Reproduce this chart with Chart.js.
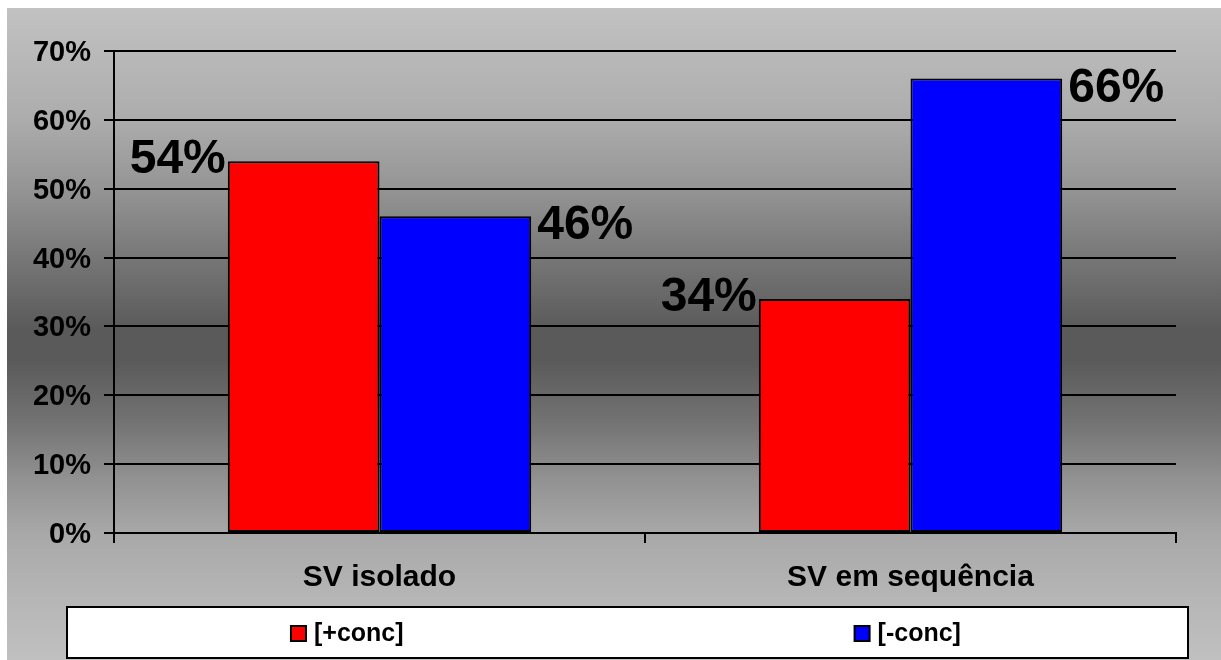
<!DOCTYPE html>
<html>
<head>
<meta charset="utf-8">
<script src="https://cdn.jsdelivr.net/npm/chart.js@4.4.1/dist/chart.umd.min.js"></script>
<style>
  html, body { margin: 0; padding: 0; background: #ffffff; }
  #wrap { width: 1221px; height: 660px; position: relative; }
</style>
</head>
<body>
<div id="wrap"><canvas id="chart" width="1221" height="660"></canvas></div>
<script>
// Categories, series and axis settings
const categories = ['SV isolado', 'SV em sequência'];
const seriesNames = ['[+conc]', '[-conc]'];
const plusConc = [54, 34];
const minusConc = [46, 66];
const seriesColors = ['#ff0000', '#0000ff'];
const yMin = 0;
const yMax = 70;
const yStep = 10;

const FONT = '"Liberation Sans", Arial, Helvetica, sans-serif';

// Vertical grey shading behind the whole chart
const backgroundPlugin = {
  id: 'backgroundShade',
  beforeDraw(chart) {
    const ctx = chart.ctx;
    const w = chart.width, h = chart.height;
    ctx.save();
    ctx.fillStyle = '#ffffff';
    ctx.fillRect(0, 0, w, h);
    const top = 8, left = 7;
    const g = ctx.createLinearGradient(0, top, 0, h);
    const stops = [
      [8, '#c2c2c2'], [120, '#acacac'], [190, '#949494'], [260, '#767676'],
      [330, '#5a5a5a'], [360, '#5a5a5a'], [420, '#727272'], [480, '#929292'],
      [533, '#a8a8a8'], [600, '#b6b6b6'], [660, '#c0c0c0']
    ];
    stops.forEach(([y, c]) => g.addColorStop((y - top) / (h - top), c));
    ctx.fillStyle = g;
    ctx.fillRect(left, top, w - left, h - top);
    ctx.restore();
  }
};

// Percentage labels beside the top of each bar
const valueLabelPlugin = {
  id: 'valueLabels',
  afterDatasetsDraw(chart) {
    const ctx = chart.ctx;
    ctx.save();
    ctx.font = 'bold 48px ' + FONT;
    ctx.fillStyle = '#000000';
    ctx.textBaseline = 'middle';
    chart.data.datasets.forEach((ds, di) => {
      const meta = chart.getDatasetMeta(di);
      meta.data.forEach((bar, i) => {
        const text = ds.data[i] + '%';
        const half = bar.width / 2;
        if (di === 0) {
          ctx.textAlign = 'right';
          ctx.fillText(text, bar.x - half - 2, bar.y - 1);
        } else {
          ctx.textAlign = 'left';
          ctx.fillText(text, bar.x + half + 6, bar.y + 10);
        }
      });
    });
    ctx.restore();
  }
};

// Boxed legend, each entry centred in its own half of the box
const boxedLegendPlugin = {
  id: 'boxedLegend',
  afterDraw(chart) {
    const ctx = chart.ctx;
    const x0 = 67, x1 = 1188, y0 = 607, y1 = 658;
    ctx.save();
    ctx.fillStyle = '#ffffff';
    ctx.fillRect(x0, y0, x1 - x0, y1 - y0);
    ctx.strokeStyle = '#000000';
    ctx.lineWidth = 2;
    ctx.strokeRect(x0, y0, x1 - x0, y1 - y0);
    ctx.font = 'bold 25px ' + FONT;
    ctx.textBaseline = 'middle';
    ctx.textAlign = 'left';
    const n = chart.data.datasets.length;
    const slot = (x1 - x0) / n;
    const box = 15, gap = 8;
    chart.data.datasets.forEach((ds, i) => {
      const tw = ctx.measureText(ds.label).width;
      const total = box + gap + tw;
      const cx = x0 + slot * (i + 0.5);
      const sx = cx - total / 2;
      const cy = (y0 + y1) / 2 + 1;
      ctx.fillStyle = ds.backgroundColor;
      ctx.fillRect(sx, cy - box / 2, box, box);
      ctx.lineWidth = 2;
      ctx.strokeStyle = '#000000';
      ctx.strokeRect(sx, cy - box / 2, box, box);
      ctx.fillStyle = '#000000';
      ctx.fillText(ds.label, sx + box + gap, cy + 1);
    });
    ctx.restore();
  }
};

new Chart(document.getElementById('chart'), {
  type: 'bar',
  data: {
    labels: categories,
    datasets: [
      { label: seriesNames[0], data: plusConc, backgroundColor: seriesColors[0],
        borderColor: '#000000', borderWidth: 2, borderSkipped: false },
      { label: seriesNames[1], data: minusConc, backgroundColor: seriesColors[1],
        borderColor: '#000000', borderWidth: 2, borderSkipped: false }
    ]
  },
  options: {
    responsive: false,
    animation: false,
    events: [],
    datasets: { bar: { categoryPercentage: 2 / 3.5, barPercentage: 1.0 } },
    layout: { padding: { top: 51, right: 45, bottom: 0, left: 0 } },
    plugins: { legend: { display: false }, tooltip: { enabled: false } },
    scales: {
      x: {
        offset: true,
        grid: { display: true, offset: true, drawOnChartArea: false, drawTicks: true,
                tickLength: 10, color: '#000000', lineWidth: 2 },
        border: { display: true, color: '#000000', width: 2 },
        ticks: { color: '#000000', padding: 17, maxRotation: 0,
                 font: { family: FONT, size: 30, weight: 'bold' } },
        afterFit(scale) { scale.height = 127; }
      },
      y: {
        min: yMin, max: yMax,
        grid: { color: '#000000', lineWidth: 2, tickLength: 10, drawTicks: true },
        border: { display: true, color: '#000000', width: 2 },
        ticks: { stepSize: yStep, color: '#000000', padding: 13, labelOffset: 2,
                 font: { family: FONT, size: 29, weight: 'bold' },
                 callback: v => v + '%' },
        afterFit(scale) { scale.width = 114; }
      }
    }
  },
  plugins: [backgroundPlugin, valueLabelPlugin, boxedLegendPlugin]
});
</script>
</body>
</html>
